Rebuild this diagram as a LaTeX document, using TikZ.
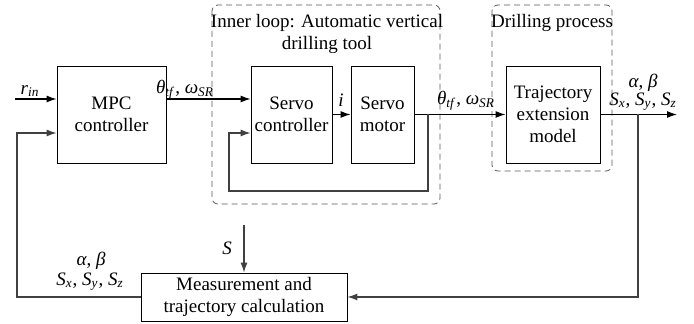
\documentclass[tikz,border=0pt]{standalone}
\usepackage{fontspec}
\setmainfont{LiberationSerif}[Extension=.ttf, UprightFont=*-Regular, ItalicFont=*-Italic, BoldFont=*-Bold, BoldItalicFont=*-BoldItalic]
\usetikzlibrary{arrows.meta}
\newcommand{\vsym}[2]{\textit{#1}\textsubscript{\textit{#2}}}

\begin{document}
\begin{tikzpicture}[
  x=0.5pt, y=-0.5pt,
  every node/.style={font=\fontsize{9.5}{11}\selectfont},
  block/.style={rectangle, draw, thin, minimum height=48.5pt, align=center, inner sep=1pt},
  loopbox/.style={draw=gray!70!black, dashed, dash pattern=on 3pt off 2pt, rounded corners=3pt, thin},
  sig/.style={-{Latex[length=5pt,width=3.5pt]}, semithick},
  fb/.style={-{Latex[length=5pt,width=3.5pt]}, semithick, black!75},
]
\useasboundingbox (0,0) rectangle (694,324);

% Loop frames
\draw[loopbox] (212,5) rectangle (440,204);
\node[align=center] (innert) at (327,34) {Inner loop: Automatic vertical\\drilling tool};
\draw[loopbox] (492,5) rectangle (612,171);
\node (drillt) at (552,23) {Drilling process};

% Blocks
\node[block, minimum width=54.5pt] (mpc) at (111.5,114.5) {MPC\\controller};
\node[block, minimum width=40.5pt] (servoc) at (291.5,114.5) {Servo\\controller};
\node[block, minimum width=31.5pt] (motor) at (382.5,114.5) {Servo\\motor};
\node[block, minimum width=47pt] (traj) at (553,114.5) {Trajectory\\extension\\model};
\node[block, minimum width=103pt, minimum height=24pt] (meas) at (244,297) {Measurement and\\trajectory calculation};

% Forward path
\coordinate (rin) at (15,99);
\draw[sig] (rin) -- (mpc.west |- rin);
\draw[sig] (mpc.east |- rin) -- (servoc.west |- rin);
\draw[sig] (servoc.east) -- (motor.west);
\draw[sig] (motor.east) -- (traj.west);
\coordinate (out) at (677,114.5);
\draw[sig] (traj.east) -- (out);

% Inner feedback
\coordinate (ib) at (428,114.5);
\coordinate (ibl) at (229,191);
\draw[fb] (ib) |- (ibl) |- (servoc.west |- 0,133);

% Outer feedback
\coordinate (ob) at (638,114.5);
\draw[fb] (ob) |- (meas.east);
\coordinate (obl) at (17,297);
\draw[fb] (meas.west) -- (obl) |- (mpc.west |- 0,133);
\coordinate (sin) at (244,225);
\draw[fb] (sin) -- (meas.north);

% Labels
\node (lrin) at (30,91) {\vsym{r}{in}};
\node (lth1) at (185,90) {\vsym{θ}{tf}, \vsym{ω}{SR}};
\node (li) at (341,100) {\textit{i}};
\node (lth2) at (466,101) {\vsym{θ}{tf}, \vsym{ω}{SR}};
\node (lab1) at (643,83) {\textit{α}, \textit{β}};
\node (ls1) at (643,102) {\vsym{S}{x}, \vsym{S}{y}, \vsym{S}{z}};
\node (lab2) at (91,261) {\textit{α}, \textit{β}};
\node (ls2) at (90,282) {\vsym{S}{x}, \vsym{S}{y}, \vsym{S}{z}};
\node (ls) at (227,248) {\textit{S}};

\end{tikzpicture}
\end{document}
